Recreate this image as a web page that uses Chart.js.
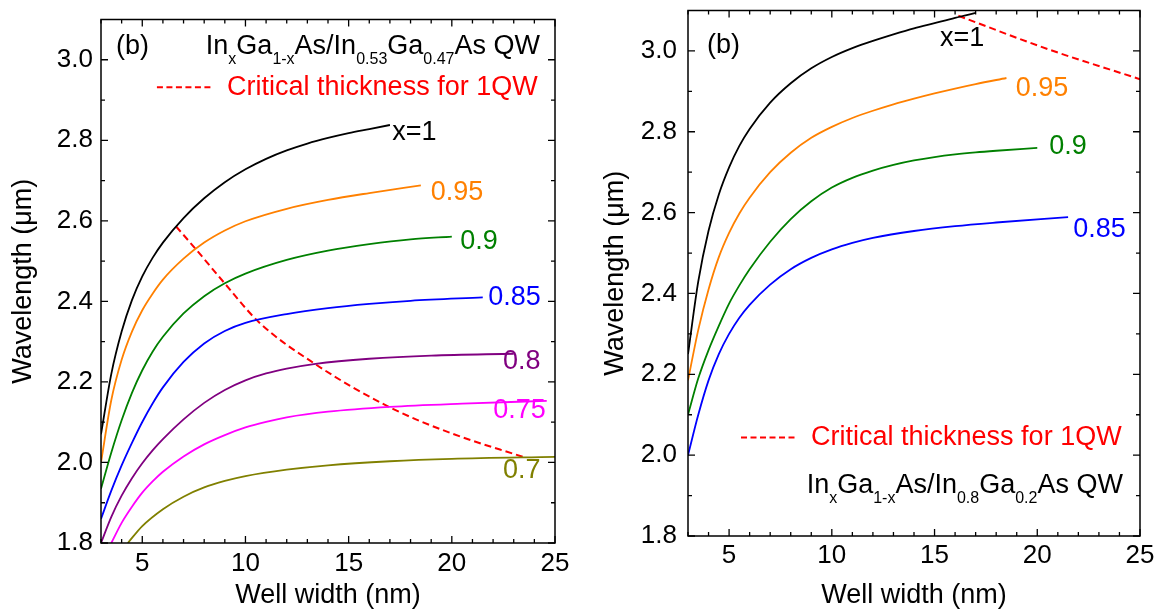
<!DOCTYPE html>
<html lang="en">
<head>
  <meta charset="UTF-8">
  <title>Wavelength vs well width</title>
  <script src="https://cdn.jsdelivr.net/npm/chart.js@4/dist/chart.umd.min.js"></script>
  <style>
    body { margin: 0; background: #fff; }
    .painel { position: absolute; top: 0; height: 612px; }
    #p1 { left: 0; width: 580px; }
    #p2 { left: 580px; width: 579px; }
  </style>
</head>
<body>
  <div class="painel" id="p1"><canvas id="grafico1"></canvas></div>
  <div class="painel" id="p2"><canvas id="grafico2"></canvas></div>

<script>
const FONT = "'Liberation Sans', Arial, Helvetica, sans-serif"

// axis ticks
const xTicks = [5, 10, 15, 20, 25]
const yTicks = [1.8, 2.0, 2.2, 2.4, 2.6, 2.8, 3.0]

// left panel: InxGa1-xAs / In0.53Ga0.47As
const wL100 = [3, 3.5, 4, 4.5, 5, 5.5, 6, 7, 8, 9, 10, 11, 12, 13, 14, 15, 16, 17]
const lamL100 = [2.07, 2.22, 2.325, 2.403, 2.462, 2.508, 2.546, 2.607, 2.656, 2.696, 2.728, 2.754, 2.775, 2.792, 2.806, 2.818, 2.828, 2.838]
const wL095 = [3, 3.5, 4, 4.5, 5, 5.5, 6, 7, 8, 9, 10, 12, 14, 16, 18.5]
const lamL095 = [2.0, 2.155, 2.255, 2.325, 2.378, 2.419, 2.454, 2.506, 2.546, 2.576, 2.599, 2.63, 2.652, 2.669, 2.688]
const wL090 = [3, 3.5, 4, 4.5, 5, 5.5, 6, 7, 8, 9, 10, 12, 14, 16, 18, 20]
const lamL090 = [1.935, 2.025, 2.105, 2.173, 2.229, 2.275, 2.312, 2.37, 2.413, 2.445, 2.469, 2.503, 2.526, 2.542, 2.554, 2.561]
const wL085 = [3, 3.5, 4, 4.5, 5, 5.5, 6, 7, 8, 9, 10, 12, 14, 16, 18, 21.5]
const lamL085 = [1.86, 1.93, 1.9925, 2.0485, 2.1005, 2.1465, 2.1865, 2.2495, 2.2955, 2.3265, 2.3465, 2.3685, 2.3835, 2.394, 2.4015, 2.41]
const wL080 = [3, 3.5, 4, 4.5, 5, 5.5, 6, 7, 8, 9, 10, 11, 12, 13.4, 16, 19, 23]
const lamL080 = [1.80, 1.865, 1.9175, 1.961, 1.998, 2.03, 2.058, 2.107, 2.148, 2.18, 2.204, 2.221, 2.233, 2.245, 2.2575, 2.2655, 2.27]
const wL075 = [3.5, 4, 4.5, 5, 5.5, 6, 7, 8, 9, 10, 11, 12, 14, 17, 20.5, 24.6]
const lamL075 = [1.80, 1.85, 1.89, 1.925, 1.953, 1.977, 2.015, 2.045, 2.068, 2.087, 2.101, 2.112, 2.126, 2.138, 2.146, 2.153]
const wL070 = [4.3, 5, 6, 7, 8, 9, 10, 12, 14, 17, 20, 25]
const lamL070 = [1.80, 1.842, 1.884, 1.915, 1.938, 1.954, 1.966, 1.982, 1.993, 2.003, 2.009, 2.014]
const wLcrit = [6.64, 7.64, 8.94, 10.64, 13.39, 17.03, 20, 23.5]
const lamLcrit = [2.586, 2.527, 2.448, 2.349, 2.244, 2.136, 2.072, 2.013]

// right panel: InxGa1-xAs / In0.8Ga0.2As
const wR100 = [3, 3.5, 4, 4.5, 5, 5.5, 6, 7, 8, 9, 10, 11, 12, 13, 14, 15, 16, 17]
const lamR100 = [2.25, 2.43, 2.555, 2.645, 2.712, 2.765, 2.807, 2.872, 2.92, 2.957, 2.985, 3.007, 3.025, 3.041, 3.056, 3.069, 3.082, 3.094]
const wR095 = [3, 3.5, 4, 4.5, 5, 5.5, 6, 7, 8, 9, 10, 11, 12, 13, 14, 15, 16, 17, 18.5]
const lamR095 = [2.185, 2.31, 2.41, 2.49, 2.55, 2.598, 2.637, 2.70, 2.748, 2.785, 2.812, 2.834, 2.852, 2.868, 2.882, 2.895, 2.907, 2.918, 2.933]
const wR090 = [3, 3.5, 4, 4.5, 5, 5.5, 6, 7, 8, 9, 10, 11, 12, 13, 14, 15, 16, 17, 18, 20]
const lamR090 = [2.10, 2.19, 2.26, 2.32, 2.375, 2.42, 2.46, 2.528, 2.584, 2.628, 2.662, 2.686, 2.704, 2.718, 2.729, 2.7375, 2.744, 2.749, 2.753, 2.76]
const wR085 = [3, 3.5, 4, 4.5, 5, 5.5, 6, 7, 8, 9, 10, 11, 12, 14, 16, 18, 21.5]
const lamR085 = [2.0, 2.10, 2.185, 2.25, 2.30, 2.34, 2.372, 2.422, 2.46, 2.488, 2.509, 2.525, 2.5375, 2.5545, 2.5665, 2.5755, 2.589]
const wRcrit = [16.16, 20.54, 25]
const lamRcrit = [3.087, 3.004, 2.93]

const cores = {
  c100: 'rgb(0,0,0)', c095: 'rgb(255,128,0)', c090: 'rgb(0,128,0)', c085: 'rgb(0,0,255)',
  c080: 'rgb(128,0,128)', c075: 'rgb(255,0,255)', c070: 'rgb(128,128,0)', crit: 'rgb(255,0,0)'
}

function serie(w, lam, cor, tracejado) {
  return {
    data: w.map((v, i) => ({x: v, y: lam[i]})),
    borderColor: cor,
    borderWidth: tracejado ? 2 : 1.8,
    borderDash: tracejado ? [7, 4] : [],
    pointRadius: 0,
    cubicInterpolationMode: 'monotone',
    fill: false
  }
}

// frame, inward ticks and in-plot texts
const deco = {
  id: 'deco',
  afterDraw(chart, args, o) {
    const {ctx, chartArea: a, scales: {x, y}} = chart
    const X = v => x.getPixelForValue(v)
    const Y = v => y.getPixelForValue(v)
    ctx.save()
    ctx.strokeStyle = '#000'
    ctx.lineWidth = 1.5
    ctx.strokeRect(a.left, a.top, a.right - a.left, a.bottom - a.top)
    ctx.lineWidth = 1.3
    ctx.beginPath()
    for (let v = 3; v <= 25; v++) {
      const p = X(v), len = v % 5 === 0 ? 7 : 4
      ctx.moveTo(p, a.bottom); ctx.lineTo(p, a.bottom - len)
      ctx.moveTo(p, a.top); ctx.lineTo(p, a.top + len)
    }
    for (let i = 18; i <= 30; i++) {
      const p = Y(i / 10), len = i % 2 === 0 ? 7 : 4
      ctx.moveTo(a.left, p); ctx.lineTo(a.left + len, p)
      ctx.moveTo(a.right, p); ctx.lineTo(a.right - len, p)
    }
    ctx.stroke()

    // curve labels
    ctx.font = '27px ' + FONT
    ctx.textAlign = 'center'
    ctx.textBaseline = 'middle'
    o.rotulos.forEach(r => {
      ctx.fillStyle = r.cor
      ctx.fillText(r.t, X(r.x), Y(r.y))
    })

    // (b)
    ctx.fillStyle = '#000'
    ctx.textAlign = 'left'
    ctx.textBaseline = 'alphabetic'
    ctx.fillText('(b)', X(o.letra.x), Y(o.letra.y))

    // structure title with subscripts
    let larg = 0
    o.titulo.segs.forEach(s => {
      ctx.font = (s.sub ? '16px ' : '27px ') + FONT
      larg += ctx.measureText(s.t).width
    })
    let px = X(o.titulo.x) - larg
    const base = Y(o.titulo.y)
    o.titulo.segs.forEach(s => {
      ctx.font = (s.sub ? '16px ' : '27px ') + FONT
      ctx.fillText(s.t, px, base + (s.sub ? 10 : 0))
      px += ctx.measureText(s.t).width
    })

    // legend entry
    const ly = Y(o.legenda.y)
    ctx.strokeStyle = cores.crit
    ctx.lineWidth = 2
    ctx.setLineDash([6, 3.5])
    ctx.beginPath()
    ctx.moveTo(X(o.legenda.x1), ly)
    ctx.lineTo(X(o.legenda.x2), ly)
    ctx.stroke()
    ctx.setLineDash([])
    ctx.fillStyle = cores.crit
    ctx.font = '27px ' + FONT
    ctx.textBaseline = 'middle'
    ctx.fillText('Critical thickness for 1QW', X(o.legenda.xt), ly)
    ctx.restore()
  }
}

function montar(id, datasets, cfg) {
  new Chart(document.getElementById(id), {
    type: 'line',
    data: {datasets: datasets},
    plugins: [deco],
    options: {
      animation: false,
      responsive: true,
      maintainAspectRatio: false,
      layout: {padding: {top: cfg.topo, right: cfg.direita, left: 0, bottom: 0}},
      plugins: {
        legend: {display: false},
        tooltip: {enabled: false},
        deco: cfg.deco
      },
      scales: {
        x: {
          type: 'linear', min: 3, max: 25,
          afterBuildTicks: s => { s.ticks = xTicks.map(v => ({value: v})) },
          afterFit: s => { s.height = cfg.alturaX; s.paddingLeft = 0; s.paddingRight = 0 },
          grid: {display: false, drawTicks: false},
          border: {display: false},
          ticks: {color: '#000', autoSkip: false, maxRotation: 0, padding: cfg.padX,
                  font: {family: FONT, size: 26, lineHeight: 1}},
          title: {display: true, text: 'Well width (nm)', color: '#000',
                  font: {family: FONT, size: 27, lineHeight: 1}, padding: {top: 0, bottom: 3}}
        },
        y: {
          type: 'linear', min: 1.8, max: 3.1,
          afterBuildTicks: s => { s.ticks = yTicks.map(v => ({value: v})) },
          afterFit: s => { s.width = cfg.larguraY; s.paddingTop = 0; s.paddingBottom = 0 },
          grid: {display: false, drawTicks: false},
          border: {display: false},
          ticks: {color: '#000', padding: cfg.padY, callback: v => v.toFixed(1),
                  font: {family: FONT, size: 26, lineHeight: 1}},
          title: {display: true, text: 'Wavelength (\u03bcm)', color: '#000',
                  font: {family: FONT, size: 27, lineHeight: 1}, padding: {top: cfg.padTituloY, bottom: 0}}
        }
      }
    }
  })
}

montar('grafico1', [
  serie(wL100, lamL100, cores.c100),
  serie(wL095, lamL095, cores.c095),
  serie(wL090, lamL090, cores.c090),
  serie(wL085, lamL085, cores.c085),
  serie(wL080, lamL080, cores.c080),
  serie(wL075, lamL075, cores.c075),
  serie(wL070, lamL070, cores.c070),
  serie(wLcrit, lamLcrit, cores.crit, true)
], {
  topo: 19.5, direita: 25, alturaX: 69, larguraY: 101, padX: 8, padY: 8, padTituloY: 10.5,
  deco: {
    rotulos: [
      {t: 'x=1', x: 18.19, y: 2.82, cor: cores.c100},
      {t: '0.95', x: 20.25, y: 2.67, cor: cores.c095},
      {t: '0.9', x: 21.32, y: 2.548, cor: cores.c090},
      {t: '0.85', x: 23.04, y: 2.409, cor: cores.c085},
      {t: '0.8', x: 23.39, y: 2.25, cor: cores.c080},
      {t: '0.75', x: 23.28, y: 2.128, cor: cores.c075},
      {t: '0.7', x: 23.39, y: 1.981, cor: cores.c070}
    ],
    letra: {x: 3.73, y: 3.014},
    titulo: {x: 24.27, y: 3.014, segs: [
      {t: 'In'}, {t: 'x', sub: true}, {t: 'Ga'}, {t: '1-x', sub: true}, {t: 'As/In'},
      {t: '0.53', sub: true}, {t: 'Ga'}, {t: '0.47', sub: true}, {t: 'As QW'}
    ]},
    legenda: {x1: 5.71, x2: 8.43, xt: 9.11, y: 2.932}
  }
})

montar('grafico2', [
  serie(wR100, lamR100, cores.c100),
  serie(wR095, lamR095, cores.c095),
  serie(wR090, lamR090, cores.c090),
  serie(wR085, lamR085, cores.c085),
  serie(wRcrit, lamRcrit, cores.crit, true)
], {
  topo: 10.5, direita: 19, alturaX: 76, larguraY: 108, padX: 7, padY: 11, padTituloY: 22,
  deco: {
    rotulos: [
      {t: 'x=1', x: 16.34, y: 3.03, cor: cores.c100},
      {t: '0.95', x: 20.23, y: 2.908, cor: cores.c095},
      {t: '0.9', x: 21.5, y: 2.763, cor: cores.c090},
      {t: '0.85', x: 23.03, y: 2.557, cor: cores.c085}
    ],
    letra: {x: 3.92, y: 2.996},
    titulo: {x: 24.17, y: 1.9065, segs: [
      {t: 'In'}, {t: 'x', sub: true}, {t: 'Ga'}, {t: '1-x', sub: true}, {t: 'As/In'},
      {t: '0.8', sub: true}, {t: 'Ga'}, {t: '0.2', sub: true}, {t: 'As QW'}
    ]},
    legenda: {x1: 5.58, x2: 8.31, xt: 8.99, y: 2.0435}
  }
})
</script>
</body>
</html>
